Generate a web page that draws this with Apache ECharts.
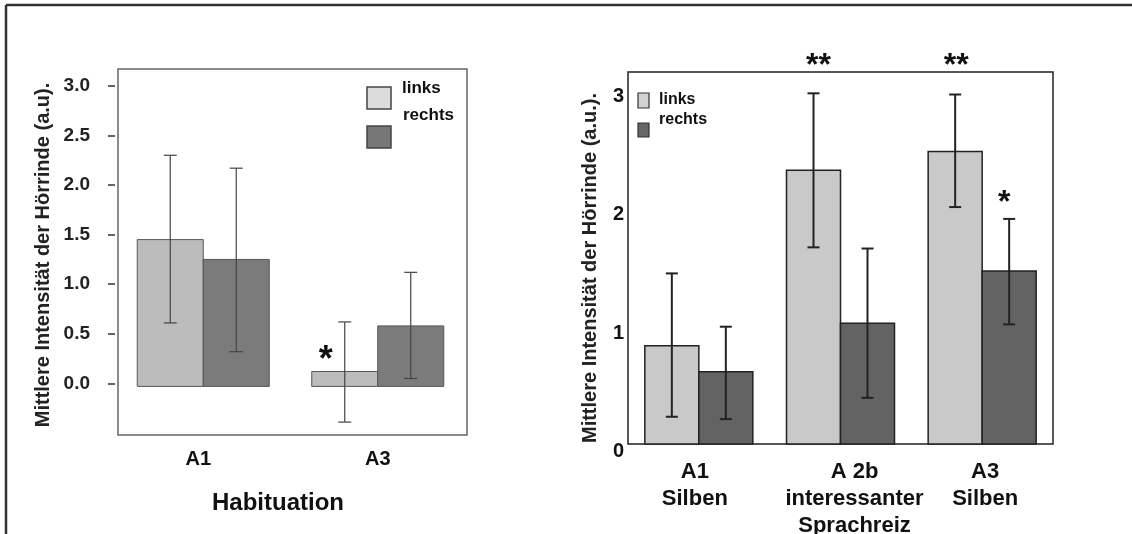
<!DOCTYPE html>
<html>
<head>
<meta charset="utf-8">
<script src="https://cdn.jsdelivr.net/npm/echarts@6/dist/echarts.min.js"></script>
<style>
html,body{margin:0;padding:0;background:#fff;}
#chart{width:1132px;height:534px;}
</style>
</head>
<body>
<div id="chart"></div>
<script>
// ---- Data ----
const leftCategories = ['A1', 'A3'];
const leftLinks = [1.45, 0.12];
const leftLinksErr = [[0.61, 2.30], [-0.39, 0.62]];
const leftRechts = [1.25, 0.58];
const leftRechtsErr = [[0.32, 2.17], [0.05, 1.12]];
const leftTicks = [0, 0.5, 1, 1.5, 2, 2.5, 3];
const leftStars = [{ cat: 1, side: 0, value: 0.31, text: '*' }];

const rightCategories = ['A1\nSilben', 'A 2b\ninteressanter\nSprachreiz', 'A3\nSilben'];
const rightLinks = [0.83, 2.31, 2.47];
const rightLinksErr = [[0.23, 1.44], [1.66, 2.96], [2.00, 2.95]];
const rightRechts = [0.61, 1.02, 1.46];
const rightRechtsErr = [[0.21, 0.99], [0.39, 1.65], [1.01, 1.90]];
const rightTicks = [0, 1, 2, 3];
const rightStars = [
  { cat: 1, side: 0, value: 3.25, text: '**' },
  { cat: 2, side: 0, value: 3.25, text: '**' },
  { cat: 2, side: 1, value: 2.09, text: '*' }
];

const seriesNames = ['links', 'rechts'];
const yTitleLeft = 'Mittlere Intensität der Hörrinde (a.u).';
const yTitleRight = 'Mittlere Intensität der Hörrinde (a.u.).';
const xTitleLeft = 'Habituation';

const FONT = '"Liberation Sans", Arial, sans-serif';

function build(vals, errs) {
  return vals.map((v, i) => [i, v, errs[i][0], errs[i][1]]);
}

function barSeries(gridIdx, data, side, cfg) {
  return {
    type: 'custom',
    name: seriesNames[side],
    xAxisIndex: gridIdx, yAxisIndex: gridIdx,
    data: data,
    clip: false,
    z: 2 + side,
    renderItem: function (params, api) {
      const i = api.value(0), v = api.value(1), lo = api.value(2), hi = api.value(3);
      const pBase = api.coord([i, cfg.base]);
      const pTop = api.coord([i, v]);
      const w = cfg.barWidth;
      const x0 = pBase[0] + (side - 1) * w + cfg.shift;
      const cx = x0 + w / 2;
      const yLo = api.coord([i, lo])[1];
      const yHi = api.coord([i, hi])[1];
      const cap = cfg.cap / 2;
      return {
        type: 'group',
        children: [
          { type: 'rect', shape: { x: x0, y: pTop[1], width: w, height: pBase[1] - pTop[1] },
            style: { fill: cfg.colors[side], stroke: cfg.stroke, lineWidth: cfg.strokeWidth } },
          { type: 'line', shape: { x1: cx, y1: yLo, x2: cx, y2: yHi },
            style: { stroke: cfg.errColor, lineWidth: cfg.errWidth } },
          { type: 'line', shape: { x1: cx - cap, y1: yHi, x2: cx + cap, y2: yHi },
            style: { stroke: cfg.errColor, lineWidth: cfg.errWidth } },
          { type: 'line', shape: { x1: cx - cap, y1: yLo, x2: cx + cap, y2: yLo },
            style: { stroke: cfg.errColor, lineWidth: cfg.errWidth } }
        ]
      };
    }
  };
}

function starSeries(gridIdx, stars, cfg) {
  return {
    type: 'custom',
    xAxisIndex: gridIdx, yAxisIndex: gridIdx,
    data: stars.map(s => [s.cat, s.value, s.side]),
    clip: false,
    z: 10,
    renderItem: function (params, api) {
      const i = api.value(0), v = api.value(1), side = api.value(2);
      const p = api.coord([i, v]);
      const w = cfg.barWidth;
      const cx = p[0] + (side - 1) * w + w / 2 + cfg.shift + (cfg.dx[params.dataIndex] || 0);
      return {
        type: 'text',
        x: cx, y: p[1] + cfg.dy,
        style: { text: stars[params.dataIndex].text, align: 'center', verticalAlign: 'middle',
          font: 'bold ' + cfg.fontSize + 'px ' + FONT, fill: '#111' }
      };
    }
  };
}

const leftCfg = { base: -0.03, barWidth: 66, shift: -2, colors: ['#bcbcbc', '#7b7b7b'], stroke: '#555',
  strokeWidth: 1, errColor: '#444', errWidth: 1.2, cap: 13 };
const rightCfg = { base: 0, barWidth: 54, shift: 0, colors: ['#c9c9c9', '#636363'], stroke: '#222',
  strokeWidth: 1.5, errColor: '#222', errWidth: 2, cap: 12 };

const chart = echarts.init(document.getElementById('chart'), null, { renderer: 'canvas' });

const option = {
  backgroundColor: '#fff',
  animation: false,
  grid: [
    { left: 118, right: 1132 - 467, top: 69, bottom: 534 - 435, show: true, borderColor: '#666', borderWidth: 1.5,
      backgroundColor: 'transparent', containLabel: false, outerBoundsMode: 'none' },
    { left: 628, right: 1132 - 1053, top: 72, bottom: 534 - 444, show: true, borderColor: '#222', borderWidth: 1.5,
      backgroundColor: 'transparent', containLabel: false, outerBoundsMode: 'none' }
  ],
  xAxis: [
    { type: 'category', gridIndex: 0, data: [
        { value: leftCategories[0], textStyle: { padding: [0, 14, 0, 0] } },
        { value: leftCategories[1], textStyle: { padding: [0, 4, 0, 0] } }
      ],
      axisLine: { show: false }, axisTick: { show: false },
      axisLabel: { margin: 14, fontSize: 20, fontWeight: 'bold', fontFamily: FONT, color: '#111' } },
    { type: 'category', gridIndex: 1, data: [
        { value: rightCategories[0], textStyle: { padding: [0, 8, 0, 0] } },
        { value: rightCategories[1], textStyle: { padding: [0, 0, 0, 28] } },
        { value: rightCategories[2], textStyle: { padding: [0, 0, 0, 6] } }
      ],
      axisLine: { show: false }, axisTick: { show: false },
      axisLabel: { margin: 14, fontSize: 22, lineHeight: 27, fontWeight: 'bold', fontFamily: FONT, color: '#111', interval: 0 } }
  ],
  yAxis: [
    { type: 'value', gridIndex: 0, min: -0.52, max: 3.17, offset: 3,
      axisLine: { show: false },
      axisTick: { show: true, length: 7, customValues: leftTicks, lineStyle: { color: '#333', width: 1.5 } },
      axisLabel: { customValues: leftTicks, formatter: v => v.toFixed(1), margin: 25,
        fontSize: 19, fontWeight: 'bold', fontFamily: FONT, color: '#222' },
      splitLine: { show: false } },
    { type: 'value', gridIndex: 1, min: 0, max: 3.14,
      axisLine: { show: false },
      axisTick: { show: false },
      axisLabel: { customValues: rightTicks, formatter: v => String(v), margin: 4, verticalAlign: 'top', lineHeight: 15,
        fontSize: 20, fontWeight: 'bold', fontFamily: FONT, color: '#111' },
      splitLine: { show: false } }
  ],
  series: [
    barSeries(0, build(leftLinks, leftLinksErr), 0, leftCfg),
    barSeries(0, build(leftRechts, leftRechtsErr), 1, leftCfg),
    barSeries(1, build(rightLinks, rightLinksErr), 0, rightCfg),
    barSeries(1, build(rightRechts, rightRechtsErr), 1, rightCfg),
    starSeries(0, leftStars, Object.assign({}, leftCfg, { fontSize: 36, dx: [-19], dy: 8 })),
    starSeries(1, rightStars, Object.assign({}, rightCfg, { fontSize: 32, dx: [5, 1, -5], dy: 7 }))
  ],
  graphic: [
    // outer frame
    { type: 'line', shape: { x1: 6, y1: 5, x2: 1132, y2: 5 }, style: { stroke: '#333', lineWidth: 2.5 } },
    { type: 'line', shape: { x1: 6, y1: 5, x2: 6, y2: 534 }, style: { stroke: '#333', lineWidth: 2.5 } },
    // y titles
    { type: 'text', x: 43, y: 255, rotation: Math.PI / 2,
      style: { text: yTitleLeft, align: 'center', verticalAlign: 'middle', font: 'bold 20px ' + FONT, fill: '#222' } },
    { type: 'text', x: 590, y: 268, rotation: Math.PI / 2,
      style: { text: yTitleRight, align: 'center', verticalAlign: 'middle', font: 'bold 20px ' + FONT, fill: '#222' } },
    // x title
    { type: 'text', x: 278, y: 503,
      style: { text: xTitleLeft, align: 'center', verticalAlign: 'middle', font: 'bold 24px ' + FONT, fill: '#111' } },
    // left legend
    { type: 'rect', shape: { x: 367, y: 87, width: 24, height: 22 }, style: { fill: '#dcdcdc', stroke: '#444', lineWidth: 1.5 } },
    { type: 'rect', shape: { x: 367, y: 126, width: 24, height: 22 }, style: { fill: '#777', stroke: '#444', lineWidth: 1.5 } },
    { type: 'text', x: 402, y: 88, style: { text: seriesNames[0], align: 'left', verticalAlign: 'middle', font: 'bold 17px ' + FONT, fill: '#111' } },
    { type: 'text', x: 403, y: 115, style: { text: seriesNames[1], align: 'left', verticalAlign: 'middle', font: 'bold 17px ' + FONT, fill: '#111' } },
    // right legend
    { type: 'rect', shape: { x: 638, y: 93, width: 11, height: 15 }, style: { fill: '#d2d2d2', stroke: '#333', lineWidth: 1.2 } },
    { type: 'rect', shape: { x: 638, y: 123, width: 11, height: 14 }, style: { fill: '#666', stroke: '#333', lineWidth: 1.2 } },
    { type: 'text', x: 659, y: 100, style: { text: seriesNames[0], align: 'left', verticalAlign: 'middle', font: 'bold 16px ' + FONT, fill: '#111' } },
    { type: 'text', x: 659, y: 120, style: { text: seriesNames[1], align: 'left', verticalAlign: 'middle', font: 'bold 16px ' + FONT, fill: '#111' } }
  ]
};

chart.setOption(option);
</script>
</body>
</html>
